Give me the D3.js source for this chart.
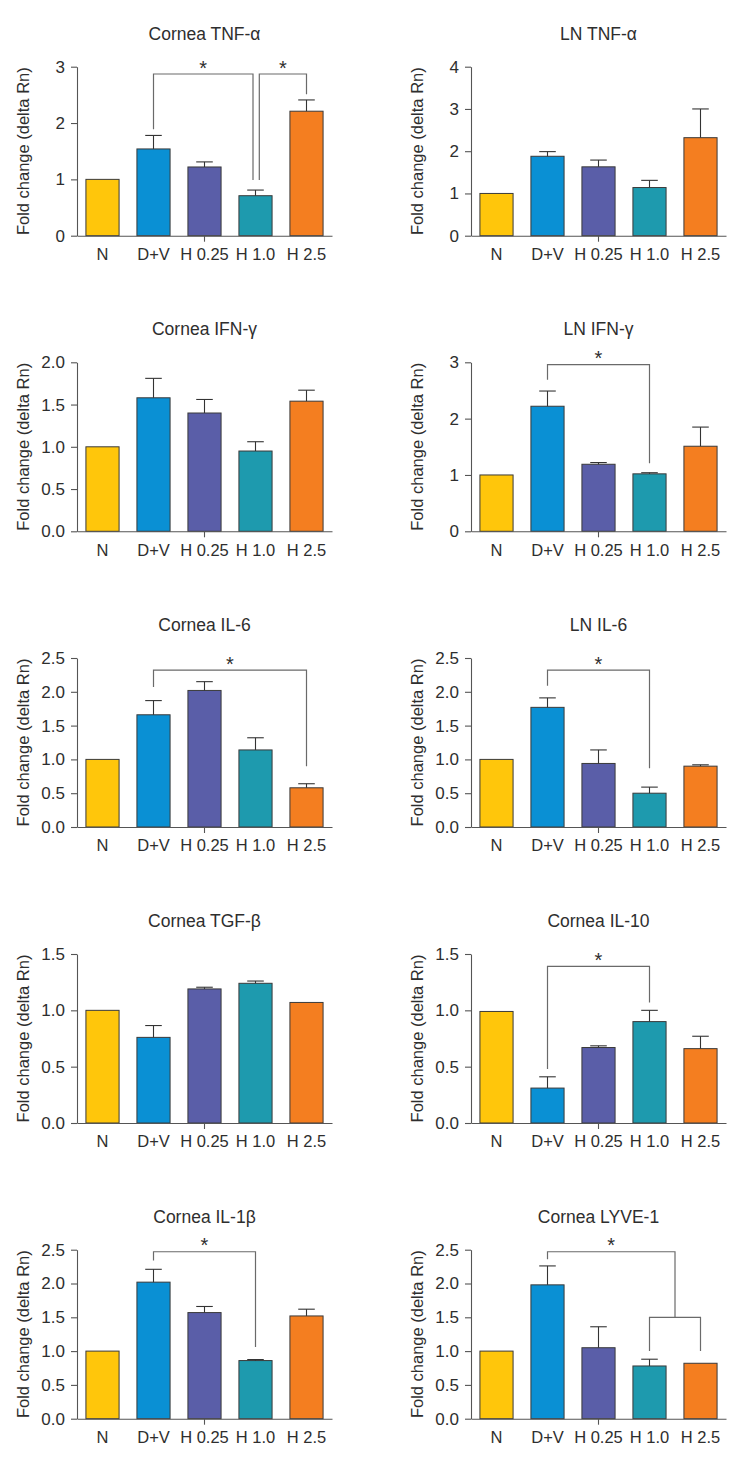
<!DOCTYPE html>
<html><head><meta charset="utf-8">
<script src="https://cdn.jsdelivr.net/npm/d3@7"></script>
<style>
body{margin:0;background:#fff;}
text{font-family:"Liberation Sans",Arial,Helvetica,sans-serif;fill:#2e2e2e;}
</style></head>
<body><svg id="c" width="737" height="1464"></svg>
<script>
const categories = ["N","D+V","H 0.25","H 1.0","H 2.5"];
const barColors = ["#FFC60B","#0A90D4","#5A5EA8","#1E9AAE","#F47E20"];

const titles = ["Cornea TNF-α","LN TNF-α","Cornea IFN-γ","LN IFN-γ","Cornea IL-6","LN IL-6","Cornea TGF-β","Cornea IL-10","Cornea IL-1β","Cornea LYVE-1"];

// means
const corneaTNF   = [1.00,1.54,1.22,0.71,2.21];
const lnTNF       = [1.00,1.88,1.63,1.14,2.32];
const corneaIFN   = [1.00,1.58,1.40,0.95,1.54];
const lnIFN       = [1.00,2.22,1.19,1.02,1.51];
const corneaIL6   = [1.00,1.66,2.02,1.14,0.58];
const lnIL6       = [1.00,1.77,0.94,0.50,0.90];
const corneaTGF   = [1.00,0.76,1.19,1.24,1.07];
const corneaIL10  = [0.99,0.31,0.67,0.90,0.66];
const corneaIL1b  = [1.00,2.02,1.57,0.86,1.52];
const corneaLYVE  = [1.00,1.98,1.05,0.78,0.82];

// upper error bars
const corneaTNFErr  = [0,0.24,0.09,0.10,0.20];
const lnTNFErr      = [0,0.11,0.16,0.17,0.68];
const corneaIFNErr  = [0,0.23,0.16,0.11,0.13];
const lnIFNErr      = [0,0.27,0.03,0.02,0.34];
const corneaIL6Err  = [0,0.21,0.13,0.18,0.06];
const lnIL6Err      = [0,0.14,0.20,0.09,0.02];
const corneaTGFErr  = [0,0.105,0.015,0.02,0];
const corneaIL10Err = [0,0.10,0.015,0.10,0.11];
const corneaIL1bErr = [0,0.19,0.09,0.015,0.10];
const corneaLYVEErr = [0,0.28,0.31,0.10,0];

// y-axis tick values
const ticks0to3 = [0,1,2,3];
const ticks0to4 = [0,1,2,3,4];
const ticks0to2 = [0,0.5,1.0,1.5,2.0];
const ticks0to25 = [0,0.5,1.0,1.5,2.0,2.5];
const ticks0to15 = [0,0.5,1.0,1.5];

// significance brackets: a,b = category index (fractional = between), top, legA, legB levels
const sigTNF   = [{a:1,b:3,top:2.87,la:1.89,lb:0.99,ob:-2.5,star:true},{a:3,b:4,top:2.87,la:0.99,lb:2.51,oa:3.8,star:true}];
const sigLnIFN = [{a:1,b:3,top:2.96,la:2.69,lb:1.21,star:true}];
const sigIL6   = [{a:1,b:4,top:2.32,la:2.07,lb:0.90,star:true}];
const sigLnIL6 = [{a:1,b:3,top:2.32,la:2.09,lb:0.87,star:true}];
const sigIL10  = [{a:1,b:3,top:1.39,la:0.48,lb:1.07,star:true}];
const sigIL1b  = [{a:1,b:3,top:2.47,la:2.34,lb:1.06,star:true}];
const sigLYVE  = [{a:1,b:3.5,top:2.47,la:2.36,lb:1.50,star:true},{a:3,b:4,top:1.50,la:1.0,lb:1.0,star:false}];

const panels = [
  {t:titles[0], v:corneaTNF,  e:corneaTNFErr,  ticks:ticks0to3,  max:3,   dec:0, sig:sigTNF},
  {t:titles[1], v:lnTNF,      e:lnTNFErr,      ticks:ticks0to4,  max:4,   dec:0, sig:[]},
  {t:titles[2], v:corneaIFN,  e:corneaIFNErr,  ticks:ticks0to2,  max:2,   dec:1, sig:[]},
  {t:titles[3], v:lnIFN,      e:lnIFNErr,      ticks:ticks0to3,  max:3,   dec:0, sig:sigLnIFN},
  {t:titles[4], v:corneaIL6,  e:corneaIL6Err,  ticks:ticks0to25, max:2.5, dec:1, sig:sigIL6},
  {t:titles[5], v:lnIL6,      e:lnIL6Err,      ticks:ticks0to25, max:2.5, dec:1, sig:sigLnIL6},
  {t:titles[6], v:corneaTGF,  e:corneaTGFErr,  ticks:ticks0to15, max:1.5, dec:1, sig:[]},
  {t:titles[7], v:corneaIL10, e:corneaIL10Err, ticks:ticks0to15, max:1.5, dec:1, sig:sigIL10},
  {t:titles[8], v:corneaIL1b, e:corneaIL1bErr, ticks:ticks0to25, max:2.5, dec:1, sig:sigIL1b},
  {t:titles[9], v:corneaLYVE, e:corneaLYVEErr, ticks:ticks0to25, max:2.5, dec:1, sig:sigLYVE}
];

const svg = d3.select("#c");
const colX = [77, 471];
const axisW = 255;
const rowBottom = [235.7, 531.3, 827, 1123, 1418.7];
const plotH = 169;
const axisColor = "#555";

panels.forEach((p, i) => {
  const col = i % 2, row = Math.floor(i / 2);
  const x0 = colX[col], bottom = rowBottom[row];
  const g = svg.append("g");
  const x = d3.scaleBand().domain(categories).range([x0, x0 + axisW]).paddingInner(0.35).paddingOuter(0.175);
  const y = d3.scaleLinear().domain([0, p.max]).range([bottom, bottom - plotH]);
  const cx = k => x(categories[0]) + x.bandwidth() / 2 + k * x.step();

  // bars
  g.selectAll("rect.bar").data(p.v).join("rect")
    .attr("x", (d, k) => x(categories[k])).attr("width", x.bandwidth())
    .attr("y", d => y(d)).attr("height", d => y(0) - y(d))
    .attr("fill", (d, k) => barColors[k]).attr("stroke", "#3a3a3a").attr("stroke-width", 1);

  // error bars
  const eg = g.append("g").attr("stroke", "#333").attr("stroke-width", 1.1).attr("fill", "none");
  p.v.forEach((m, k) => {
    if (!p.e[k]) return;
    const c = cx(k);
    eg.append("line").attr("x1", c).attr("x2", c).attr("y1", y(m)).attr("y2", y(m + p.e[k]));
    eg.append("line").attr("x1", c - x.bandwidth() / 4).attr("x2", c + x.bandwidth() / 4)
      .attr("y1", y(m + p.e[k])).attr("y2", y(m + p.e[k]));
  });

  // y axis
  const ya = g.append("g").attr("transform", `translate(${x0},0)`)
    .call(d3.axisLeft(y).tickValues(p.ticks).tickSize(6).tickSizeOuter(0).tickPadding(6)
      .tickFormat(d3.format(p.dec ? ".1f" : ".0f")));
  ya.selectAll("path,line").attr("stroke", axisColor).attr("stroke-width", 1.1);
  ya.selectAll("text").attr("font-size", 17).attr("fill", "#2e2e2e").attr("font-family", null);

  // x axis
  const xa = g.append("g").attr("transform", `translate(0,${bottom})`)
    .call(d3.axisBottom(x).tickSize(6).tickSizeOuter(0).tickPadding(6));
  xa.select("path").attr("stroke", axisColor).attr("stroke-width", 1.1);
  xa.selectAll(".tick line").attr("stroke", axisColor).attr("stroke-width", 1.1)
    .attr("opacity", d => d === categories[2] ? 1 : 0);
  xa.selectAll("text").attr("font-size", 16.5).attr("fill", "#2e2e2e").attr("font-family", null)
    .attr("y", 12.5).attr("dy", "0.71em");

  // y label
  g.append("text").attr("transform", `translate(${x0 - 54.5},${bottom - plotH / 2}) rotate(-90)`)
    .attr("text-anchor", "middle").attr("dominant-baseline", "central")
    .attr("font-size", 16.5).text("Fold change (delta Rn)");

  // title
  g.append("text").attr("x", x0 + axisW / 2).attr("y", bottom - 196)
    .attr("text-anchor", "middle").attr("font-size", 17.5).text(p.t);

  // significance brackets
  const sg = g.append("g").attr("stroke", "#6a6a6a").attr("stroke-width", 1.2).attr("fill", "none");
  p.sig.forEach(s => {
    const xa_ = cx(s.a) + (s.oa || 0), xb_ = cx(s.b) + (s.ob || 0);
    sg.append("path").attr("d", `M${xa_},${y(s.la)}V${y(s.top)}H${xb_}V${y(s.lb)}`);
    if (s.star) {
      g.append("text").attr("x", (xa_ + xb_) / 2).attr("y", y(s.top) + 0.5)
        .attr("text-anchor", "middle").attr("font-size", 20).text("*");
    }
  });
});
</script></body></html>
